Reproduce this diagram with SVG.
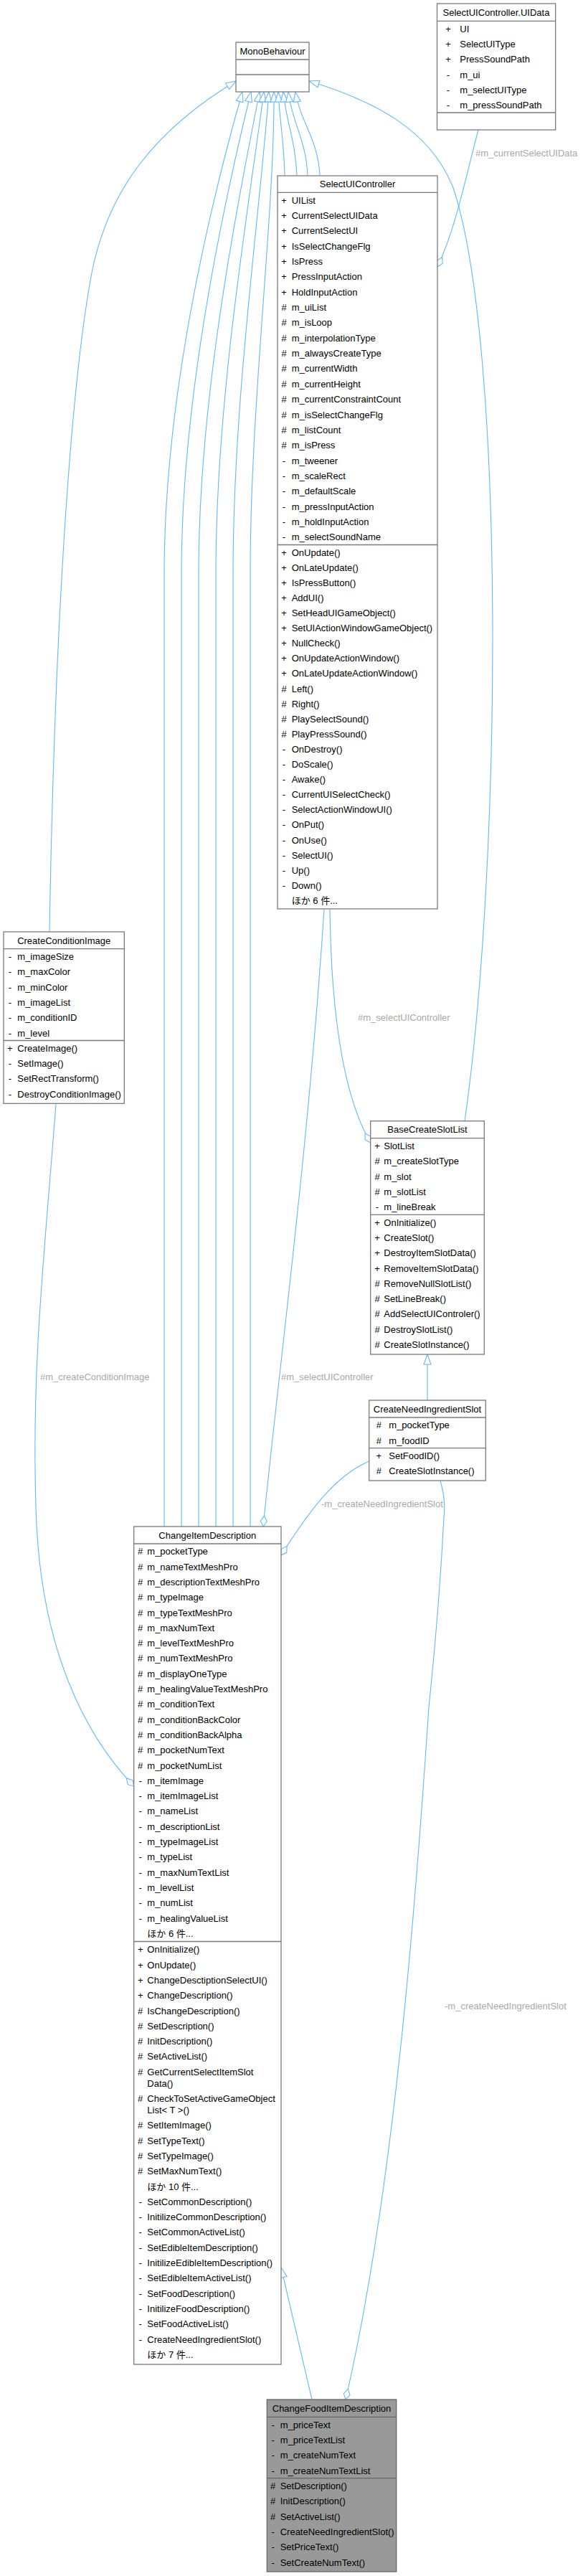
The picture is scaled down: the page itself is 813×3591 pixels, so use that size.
<svg xmlns="http://www.w3.org/2000/svg" width="813" height="3591" viewBox="0 0 813 3591">
<style>
.b{fill:#fff;stroke:#7a7a7a;stroke-width:1.3}
.bh{fill:#999;stroke:#666;stroke-width:1.3}
.d{stroke:#7a7a7a;stroke-width:1.3}
.t{font-family:"Liberation Sans",Arial,"Noto Sans CJK JP",sans-serif;font-size:13px;fill:#000}
.s{text-anchor:middle}
.e{fill:none;stroke:#63b8ff;stroke-width:1.1}
.l{font-family:"Liberation Sans",Arial,sans-serif;font-size:13px;fill:#a8a8a8}
</style>
<defs>
<marker id="tri" markerUnits="userSpaceOnUse" markerWidth="16" markerHeight="12" refX="15" refY="6" orient="auto" viewBox="0 0 16 12"><path d="M1,1 L15,6 L1,11 Z" fill="#fff" stroke="#63b8ff" stroke-width="1.1"/></marker>
<marker id="dia" markerUnits="userSpaceOnUse" markerWidth="17" markerHeight="12" refX="16" refY="6" orient="auto" viewBox="0 0 17 12"><path d="M1,6 L8.5,1.5 L16,6 L8.5,10.5 Z" fill="#fff" stroke="#63b8ff" stroke-width="1.1"/></marker>
</defs>
<rect width="813" height="3591" fill="#fff"/>
<g id="edges">
<path class="e" marker-end="url(#tri)" d="M229,2128 L229,800 C229,560 289,300 338,128"/>
<path class="e" marker-end="url(#tri)" d="M253,2128 L253,800 C253,560 308,300 350,128"/>
<path class="e" marker-end="url(#tri)" d="M277,2128 L277,800 C277,560 328,300 362,128"/>
<path class="e" marker-end="url(#tri)" d="M301,2128 L301,800 C301,560 345,300 368,128"/>
<path class="e" marker-end="url(#tri)" d="M325,2128 L325,800 C325,560 362,300 375,128"/>
<path class="e" marker-end="url(#tri)" d="M349,2128 L349,800 C349,560 383,300 382,128"/>
<path class="e" marker-end="url(#tri)" d="M397,245 C396,195 390,170 388,128"/>
<path class="e" marker-end="url(#tri)" d="M414,245 C412,195 399,170 395,128"/>
<path class="e" marker-end="url(#tri)" d="M429,245 C427,195 407,170 402,128"/>
<path class="e" marker-end="url(#tri)" d="M446,245 C444,195 419,170 412,128"/>
<path class="e" marker-end="url(#tri)" d="M69,1299 C76,880 98,540 128,380 C150,270 210,185 329,113"/>
<path class="e" marker-end="url(#tri)" d="M648,1563 C700,1200 705,480 632,262 C600,180 520,140 431,113"/>
<path class="e" marker-end="url(#dia)" d="M667,181 C650,245 635,320 610,372"/>
<text class="l" x="663" y="218">#m_currentSelectUIData</text>
<path class="e" marker-end="url(#dia)" d="M460,1268 C462,1420 480,1530 516.7,1593"/>
<text class="l" x="499" y="1422.5">#m_selectUIController</text>
<path class="e" marker-end="url(#dia)" d="M452,1268 C430,1600 390,1900 367,2128"/>
<text class="l" x="392" y="1923.5">#m_selectUIController</text>
<path class="e" marker-end="url(#dia)" d="M78,1539 C62,1750 44,1900 50,2100 C55,2300 120,2420 186.7,2490"/>
<text class="l" x="56" y="1923.5">#m_createConditionImage</text>
<path class="e" marker-end="url(#tri)" d="M596,1952 L596,1888"/>
<path class="e" marker-end="url(#dia)" d="M514.7,2037 C470,2056 435,2100 392,2168"/>
<text class="l" x="448" y="2100.5">-m_createNeedIngredientSlot</text>
<path class="e" marker-end="url(#dia)" d="M614,2064 C620,2085 621,2100 619,2115 C612,2250 603,2330 598,2380 C580,2650 550,3050 482,3345"/>
<text class="l" x="620" y="2801">-m_createNeedIngredientSlot</text>
<path class="e" marker-end="url(#tri)" d="M435,3345 L392,3161"/>
</g>
<g id="MonoBehaviour">
<rect class="b" x="329" y="59" width="102" height="69"/>
<line class="d" x1="329" y1="83" x2="431" y2="83"/>
<line class="d" x1="329" y1="104" x2="431" y2="104"/>
<text class="t s" x="380" y="75.6">MonoBehaviour</text>
</g>
<g id="SelectUIController.UIData">
<rect class="b" x="609.5" y="5" width="165.2" height="176"/>
<line class="d" x1="609.5" y1="29.3" x2="774.7" y2="29.3"/>
<line class="d" x1="609.5" y1="157" x2="774.7" y2="157"/>
<text class="t s" x="692" y="21.8">SelectUIController.UIData</text>
<g class="t">
<text class="s" x="625" y="44.6">+</text><text x="641.3" y="44.6">UI</text>
<text class="s" x="625" y="65.9">+</text><text x="641.3" y="65.9">SelectUIType</text>
<text class="s" x="625" y="87.2">+</text><text x="641.3" y="87.2">PressSoundPath</text>
<text class="s" x="625" y="108.5">-</text><text x="641.3" y="108.5">m_ui</text>
<text class="s" x="625" y="129.8">-</text><text x="641.3" y="129.8">m_selectUIType</text>
<text class="s" x="625" y="151.1">-</text><text x="641.3" y="151.1">m_pressSoundPath</text>
</g>
</g>
<g id="SelectUIController">
<rect class="b" x="387" y="245" width="223" height="1022"/>
<line class="d" x1="387" y1="268.3" x2="610" y2="268.3"/>
<line class="d" x1="387" y1="759.5" x2="610" y2="759.5"/>
<text class="t s" x="498.5" y="261.3">SelectUIController</text>
<g class="t">
<text class="s" x="396" y="283.6">+</text><text x="406.7" y="283.6">UIList</text>
<text class="s" x="396" y="304.95">+</text><text x="406.7" y="304.95">CurrentSelectUIData</text>
<text class="s" x="396" y="326.3">+</text><text x="406.7" y="326.3">CurrentSelectUI</text>
<text class="s" x="396" y="347.65">+</text><text x="406.7" y="347.65">IsSelectChangeFlg</text>
<text class="s" x="396" y="369">+</text><text x="406.7" y="369">IsPress</text>
<text class="s" x="396" y="390.35">+</text><text x="406.7" y="390.35">PressInputAction</text>
<text class="s" x="396" y="411.7">+</text><text x="406.7" y="411.7">HoldInputAction</text>
<text class="s" x="396" y="433.05">#</text><text x="406.7" y="433.05">m_uiList</text>
<text class="s" x="396" y="454.4">#</text><text x="406.7" y="454.4">m_isLoop</text>
<text class="s" x="396" y="475.75">#</text><text x="406.7" y="475.75">m_interpolationType</text>
<text class="s" x="396" y="497.1">#</text><text x="406.7" y="497.1">m_alwaysCreateType</text>
<text class="s" x="396" y="518.45">#</text><text x="406.7" y="518.45">m_currentWidth</text>
<text class="s" x="396" y="539.8">#</text><text x="406.7" y="539.8">m_currentHeight</text>
<text class="s" x="396" y="561.15">#</text><text x="406.7" y="561.15">m_currentConstraintCount</text>
<text class="s" x="396" y="582.5">#</text><text x="406.7" y="582.5">m_isSelectChangeFlg</text>
<text class="s" x="396" y="603.85">#</text><text x="406.7" y="603.85">m_listCount</text>
<text class="s" x="396" y="625.2">#</text><text x="406.7" y="625.2">m_isPress</text>
<text class="s" x="396" y="646.55">-</text><text x="406.7" y="646.55">m_tweener</text>
<text class="s" x="396" y="667.9">-</text><text x="406.7" y="667.9">m_scaleRect</text>
<text class="s" x="396" y="689.25">-</text><text x="406.7" y="689.25">m_defaultScale</text>
<text class="s" x="396" y="710.6">-</text><text x="406.7" y="710.6">m_pressInputAction</text>
<text class="s" x="396" y="731.95">-</text><text x="406.7" y="731.95">m_holdInputAction</text>
<text class="s" x="396" y="753.3">-</text><text x="406.7" y="753.3">m_selectSoundName</text>
<text class="s" x="396" y="774.6">+</text><text x="406.7" y="774.6">OnUpdate()</text>
<text class="s" x="396" y="795.7">+</text><text x="406.7" y="795.7">OnLateUpdate()</text>
<text class="s" x="396" y="816.8">+</text><text x="406.7" y="816.8">IsPressButton()</text>
<text class="s" x="396" y="837.9">+</text><text x="406.7" y="837.9">AddUI()</text>
<text class="s" x="396" y="859">+</text><text x="406.7" y="859">SetHeadUIGameObject()</text>
<text class="s" x="396" y="880.1">+</text><text x="406.7" y="880.1">SetUIActionWindowGameObject()</text>
<text class="s" x="396" y="901.2">+</text><text x="406.7" y="901.2">NullCheck()</text>
<text class="s" x="396" y="922.3">+</text><text x="406.7" y="922.3">OnUpdateActionWindow()</text>
<text class="s" x="396" y="943.4">+</text><text x="406.7" y="943.4">OnLateUpdateActionWindow()</text>
<text class="s" x="396" y="964.5">#</text><text x="406.7" y="964.5">Left()</text>
<text class="s" x="396" y="985.6">#</text><text x="406.7" y="985.6">Right()</text>
<text class="s" x="396" y="1006.7">#</text><text x="406.7" y="1006.7">PlaySelectSound()</text>
<text class="s" x="396" y="1027.8">#</text><text x="406.7" y="1027.8">PlayPressSound()</text>
<text class="s" x="396" y="1048.9">-</text><text x="406.7" y="1048.9">OnDestroy()</text>
<text class="s" x="396" y="1070">-</text><text x="406.7" y="1070">DoScale()</text>
<text class="s" x="396" y="1091.1">-</text><text x="406.7" y="1091.1">Awake()</text>
<text class="s" x="396" y="1112.2">-</text><text x="406.7" y="1112.2">CurrentUISelectCheck()</text>
<text class="s" x="396" y="1133.3">-</text><text x="406.7" y="1133.3">SelectActionWindowUI()</text>
<text class="s" x="396" y="1154.4">-</text><text x="406.7" y="1154.4">OnPut()</text>
<text class="s" x="396" y="1175.5">-</text><text x="406.7" y="1175.5">OnUse()</text>
<text class="s" x="396" y="1196.6">-</text><text x="406.7" y="1196.6">SelectUI()</text>
<text class="s" x="396" y="1217.7">-</text><text x="406.7" y="1217.7">Up()</text>
<text class="s" x="396" y="1238.8">-</text><text x="406.7" y="1238.8">Down()</text>
<text x="406.7" y="1259.9">ほか 6 件...</text>
</g>
</g>
<g id="CreateConditionImage">
<rect class="b" x="5" y="1299" width="168.3" height="239.3"/>
<line class="d" x1="5" y1="1322.7" x2="173.3" y2="1322.7"/>
<line class="d" x1="5" y1="1450.5" x2="173.3" y2="1450.5"/>
<text class="t s" x="89.2" y="1315.5">CreateConditionImage</text>
<g class="t">
<text class="s" x="13.8" y="1338">-</text><text x="24.3" y="1338">m_imageSize</text>
<text class="s" x="13.8" y="1359.3">-</text><text x="24.3" y="1359.3">m_maxColor</text>
<text class="s" x="13.8" y="1380.6">-</text><text x="24.3" y="1380.6">m_minColor</text>
<text class="s" x="13.8" y="1401.9">-</text><text x="24.3" y="1401.9">m_imageList</text>
<text class="s" x="13.8" y="1423.2">-</text><text x="24.3" y="1423.2">m_conditionID</text>
<text class="s" x="13.8" y="1444.5">-</text><text x="24.3" y="1444.5">m_level</text>
<text class="s" x="13.8" y="1465.8">+</text><text x="24.3" y="1465.8">CreateImage()</text>
<text class="s" x="13.8" y="1487.1">-</text><text x="24.3" y="1487.1">SetImage()</text>
<text class="s" x="13.8" y="1508.4">-</text><text x="24.3" y="1508.4">SetRectTransform()</text>
<text class="s" x="13.8" y="1529.7">-</text><text x="24.3" y="1529.7">DestroyConditionImage()</text>
</g>
</g>
<g id="BaseCreateSlotList">
<rect class="b" x="516.7" y="1562.7" width="158.6" height="325.3"/>
<line class="d" x1="516.7" y1="1586.7" x2="675.3" y2="1586.7"/>
<line class="d" x1="516.7" y1="1693.3" x2="675.3" y2="1693.3"/>
<text class="t s" x="596" y="1579.3">BaseCreateSlotList</text>
<g class="t">
<text class="s" x="526" y="1602">+</text><text x="535.3" y="1602">SlotList</text>
<text class="s" x="526" y="1623.3">#</text><text x="535.3" y="1623.3">m_createSlotType</text>
<text class="s" x="526" y="1644.6">#</text><text x="535.3" y="1644.6">m_slot</text>
<text class="s" x="526" y="1665.9">#</text><text x="535.3" y="1665.9">m_slotList</text>
<text class="s" x="526" y="1687.2">-</text><text x="535.3" y="1687.2">m_lineBreak</text>
<text class="s" x="526" y="1708.6">+</text><text x="535.3" y="1708.6">OnInitialize()</text>
<text class="s" x="526" y="1729.9">+</text><text x="535.3" y="1729.9">CreateSlot()</text>
<text class="s" x="526" y="1751.2">+</text><text x="535.3" y="1751.2">DestroyItemSlotData()</text>
<text class="s" x="526" y="1772.5">+</text><text x="535.3" y="1772.5">RemoveItemSlotData()</text>
<text class="s" x="526" y="1793.8">#</text><text x="535.3" y="1793.8">RemoveNullSlotList()</text>
<text class="s" x="526" y="1815.1">#</text><text x="535.3" y="1815.1">SetLineBreak()</text>
<text class="s" x="526" y="1836.4">#</text><text x="535.3" y="1836.4">AddSelectUIControler()</text>
<text class="s" x="526" y="1857.7">#</text><text x="535.3" y="1857.7">DestroySlotList()</text>
<text class="s" x="526" y="1879">#</text><text x="535.3" y="1879">CreateSlotInstance()</text>
</g>
</g>
<g id="CreateNeedIngredientSlot">
<rect class="b" x="514.7" y="1952" width="162.6" height="112"/>
<line class="d" x1="514.7" y1="1976" x2="677.3" y2="1976"/>
<line class="d" x1="514.7" y1="2018.7" x2="677.3" y2="2018.7"/>
<text class="t s" x="596" y="1968.6">CreateNeedIngredientSlot</text>
<g class="t">
<text class="s" x="528.3" y="1991.3">#</text><text x="542.3" y="1991.3">m_pocketType</text>
<text class="s" x="528.3" y="2012.6">#</text><text x="542.3" y="2012.6">m_foodID</text>
<text class="s" x="528.3" y="2034">+</text><text x="542.3" y="2034">SetFoodID()</text>
<text class="s" x="528.3" y="2055.3">#</text><text x="542.3" y="2055.3">CreateSlotInstance()</text>
</g>
</g>
<g id="ChangeItemDescription">
<rect class="b" x="186.7" y="2128" width="205.3" height="1168"/>
<line class="d" x1="186.7" y1="2152" x2="392" y2="2152"/>
<line class="d" x1="186.7" y1="2706.5" x2="392" y2="2706.5"/>
<text class="t s" x="289.3" y="2144.6">ChangeItemDescription</text>
<g class="t">
<text class="s" x="195.7" y="2167.3">#</text><text x="205.3" y="2167.3">m_pocketType</text>
<text class="s" x="195.7" y="2188.6">#</text><text x="205.3" y="2188.6">m_nameTextMeshPro</text>
<text class="s" x="195.7" y="2209.9">#</text><text x="205.3" y="2209.9">m_descriptionTextMeshPro</text>
<text class="s" x="195.7" y="2231.2">#</text><text x="205.3" y="2231.2">m_typeImage</text>
<text class="s" x="195.7" y="2252.5">#</text><text x="205.3" y="2252.5">m_typeTextMeshPro</text>
<text class="s" x="195.7" y="2273.8">#</text><text x="205.3" y="2273.8">m_maxNumText</text>
<text class="s" x="195.7" y="2295.1">#</text><text x="205.3" y="2295.1">m_levelTextMeshPro</text>
<text class="s" x="195.7" y="2316.4">#</text><text x="205.3" y="2316.4">m_numTextMeshPro</text>
<text class="s" x="195.7" y="2337.7">#</text><text x="205.3" y="2337.7">m_displayOneType</text>
<text class="s" x="195.7" y="2359">#</text><text x="205.3" y="2359">m_healingValueTextMeshPro</text>
<text class="s" x="195.7" y="2380.3">#</text><text x="205.3" y="2380.3">m_conditionText</text>
<text class="s" x="195.7" y="2401.6">#</text><text x="205.3" y="2401.6">m_conditionBackColor</text>
<text class="s" x="195.7" y="2422.9">#</text><text x="205.3" y="2422.9">m_conditionBackAlpha</text>
<text class="s" x="195.7" y="2444.2">#</text><text x="205.3" y="2444.2">m_pocketNumText</text>
<text class="s" x="195.7" y="2465.5">#</text><text x="205.3" y="2465.5">m_pocketNumList</text>
<text class="s" x="195.7" y="2486.8">-</text><text x="205.3" y="2486.8">m_itemImage</text>
<text class="s" x="195.7" y="2508.1">-</text><text x="205.3" y="2508.1">m_itemImageList</text>
<text class="s" x="195.7" y="2529.4">-</text><text x="205.3" y="2529.4">m_nameList</text>
<text class="s" x="195.7" y="2550.7">-</text><text x="205.3" y="2550.7">m_descriptionList</text>
<text class="s" x="195.7" y="2572">-</text><text x="205.3" y="2572">m_typeImageList</text>
<text class="s" x="195.7" y="2593.3">-</text><text x="205.3" y="2593.3">m_typeList</text>
<text class="s" x="195.7" y="2614.6">-</text><text x="205.3" y="2614.6">m_maxNumTextList</text>
<text class="s" x="195.7" y="2635.9">-</text><text x="205.3" y="2635.9">m_levelList</text>
<text class="s" x="195.7" y="2657.2">-</text><text x="205.3" y="2657.2">m_numList</text>
<text class="s" x="195.7" y="2678.5">-</text><text x="205.3" y="2678.5">m_healingValueList</text>
<text x="205.3" y="2699.8">ほか 6 件...</text>
<text class="s" x="195.7" y="2722.3">+</text><text x="205.3" y="2722.3">OnInitialize()</text>
<text class="s" x="195.7" y="2743.6">+</text><text x="205.3" y="2743.6">OnUpdate()</text>
<text class="s" x="195.7" y="2764.9">+</text><text x="205.3" y="2764.9">ChangeDesctiptionSelectUI()</text>
<text class="s" x="195.7" y="2786.2">+</text><text x="205.3" y="2786.2">ChangeDescription()</text>
<text class="s" x="195.7" y="2807.5">#</text><text x="205.3" y="2807.5">IsChangeDescription()</text>
<text class="s" x="195.7" y="2828.8">#</text><text x="205.3" y="2828.8">SetDescription()</text>
<text class="s" x="195.7" y="2850.1">#</text><text x="205.3" y="2850.1">InitDescription()</text>
<text class="s" x="195.7" y="2871.4">#</text><text x="205.3" y="2871.4">SetActiveList()</text>
<text class="s" x="195.7" y="2892.7">#</text><text x="205.3" y="2892.7">GetCurrentSelectItemSlot</text>
<text x="205.3" y="2908.7">Data()</text>
<text class="s" x="195.7" y="2930">#</text><text x="205.3" y="2930">CheckToSetActiveGameObject</text>
<text x="205.3" y="2946">List&lt; T &gt;()</text>
<text class="s" x="195.7" y="2967.3">#</text><text x="205.3" y="2967.3">SetItemImage()</text>
<text class="s" x="195.7" y="2988.6">#</text><text x="205.3" y="2988.6">SetTypeText()</text>
<text class="s" x="195.7" y="3009.9">#</text><text x="205.3" y="3009.9">SetTypeImage()</text>
<text class="s" x="195.7" y="3031.2">#</text><text x="205.3" y="3031.2">SetMaxNumText()</text>
<text x="205.3" y="3052.5">ほか 10 件...</text>
<text class="s" x="195.7" y="3073.8">-</text><text x="205.3" y="3073.8">SetCommonDescription()</text>
<text class="s" x="195.7" y="3095.1">-</text><text x="205.3" y="3095.1">InitilizeCommonDescription()</text>
<text class="s" x="195.7" y="3116.4">-</text><text x="205.3" y="3116.4">SetCommonActiveList()</text>
<text class="s" x="195.7" y="3137.7">-</text><text x="205.3" y="3137.7">SetEdibleItemDescription()</text>
<text class="s" x="195.7" y="3159">-</text><text x="205.3" y="3159">InitilizeEdibleItemDescription()</text>
<text class="s" x="195.7" y="3180.3">-</text><text x="205.3" y="3180.3">SetEdibleItemActiveList()</text>
<text class="s" x="195.7" y="3201.6">-</text><text x="205.3" y="3201.6">SetFoodDescription()</text>
<text class="s" x="195.7" y="3222.9">-</text><text x="205.3" y="3222.9">InitilizeFoodDescription()</text>
<text class="s" x="195.7" y="3244.2">-</text><text x="205.3" y="3244.2">SetFoodActiveList()</text>
<text class="s" x="195.7" y="3265.5">-</text><text x="205.3" y="3265.5">CreateNeedIngredientSlot()</text>
<text x="205.3" y="3286.8">ほか 7 件...</text>
</g>
</g>
<g id="ChangeFoodItemDescription">
<rect class="bh" x="372.3" y="3345" width="180.4" height="240"/>
<line x1="372.3" y1="3369.3" x2="552.7" y2="3369.3" stroke="#666" stroke-width="1.3"/>
<line x1="372.3" y1="3454.7" x2="552.7" y2="3454.7" stroke="#666" stroke-width="1.3"/>
<text class="t s" x="462.5" y="3361.8">ChangeFoodItemDescription</text>
<g class="t">
<text class="s" x="380.7" y="3384.6">-</text><text x="390.7" y="3384.6">m_priceText</text>
<text class="s" x="380.7" y="3405.9">-</text><text x="390.7" y="3405.9">m_priceTextList</text>
<text class="s" x="380.7" y="3427.2">-</text><text x="390.7" y="3427.2">m_createNumText</text>
<text class="s" x="380.7" y="3448.5">-</text><text x="390.7" y="3448.5">m_createNumTextList</text>
<text class="s" x="380.7" y="3470">#</text><text x="390.7" y="3470">SetDescription()</text>
<text class="s" x="380.7" y="3491.3">#</text><text x="390.7" y="3491.3">InitDescription()</text>
<text class="s" x="380.7" y="3512.6">#</text><text x="390.7" y="3512.6">SetActiveList()</text>
<text class="s" x="380.7" y="3533.9">-</text><text x="390.7" y="3533.9">CreateNeedIngredientSlot()</text>
<text class="s" x="380.7" y="3555.2">-</text><text x="390.7" y="3555.2">SetPriceText()</text>
<text class="s" x="380.7" y="3576.5">-</text><text x="390.7" y="3576.5">SetCreateNumText()</text>
</g>
</g>
</svg>
